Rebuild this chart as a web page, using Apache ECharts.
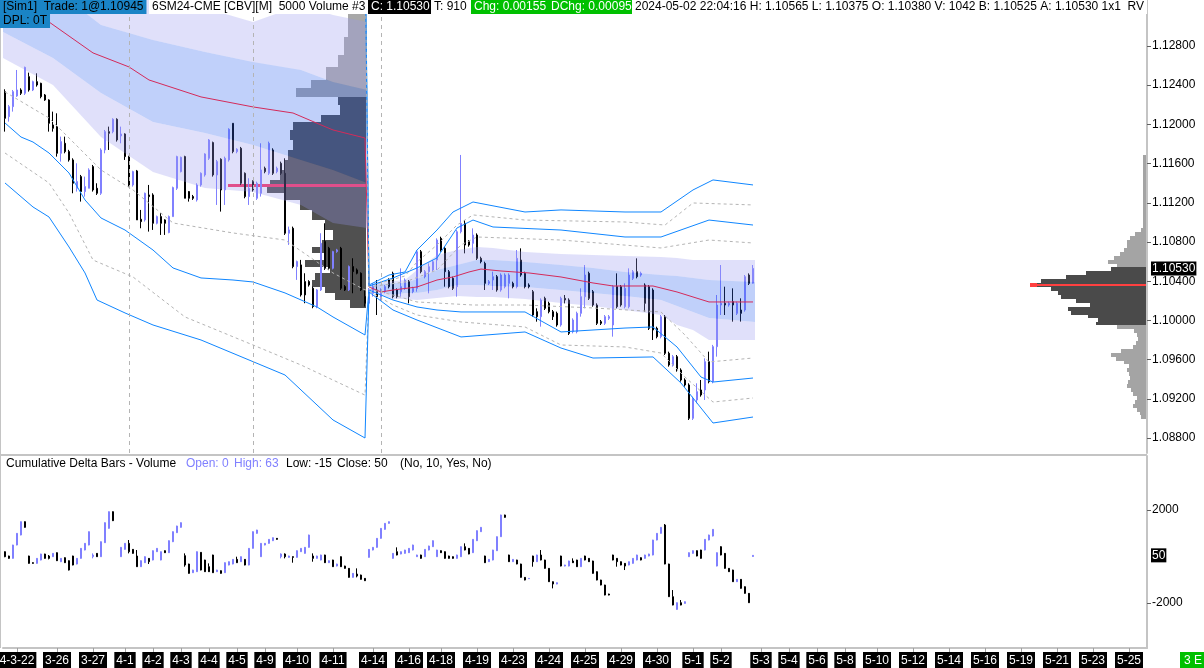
<!DOCTYPE html>
<html><head><meta charset="utf-8">
<script src="https://cdn.jsdelivr.net/npm/echarts@6/dist/echarts.min.js"></script>
<style>html,body{margin:0;padding:0;background:#fff}#c{width:1204px;height:668px}</style>
</head><body><div id="c"></div>
<script>
// ---------------- DATA ----------------
// price bars (5000 volume bars): [open, close, low, high]
const priceOHLC = [
[1.12334,1.12062,1.11926,1.12358],[1.12079,1.12181,1.12028,1.12198],[1.12181,1.12334,1.12130,1.12351],[1.12290,1.12351,1.12280,1.12555],
[1.12351,1.12317,1.12300,1.12368],[1.12317,1.12582,1.12300,1.12589],[1.12487,1.12351,1.12334,1.12528],[1.12351,1.12436,1.12340,1.12446],
[1.12436,1.12402,1.12385,1.12521],[1.12419,1.12283,1.12266,1.12425],[1.12300,1.12249,1.12240,1.12310],[1.12249,1.12011,1.11926,1.12256],
[1.11994,1.11960,1.11926,1.12130],[1.11977,1.11705,1.11671,1.12113],[1.11705,1.11824,1.11620,1.11875],[1.11807,1.11722,1.11705,1.11875],
[1.11722,1.11637,1.11620,1.11740],[1.11637,1.11399,1.11297,1.11654],[1.11348,1.11416,1.11314,1.11603],[1.11467,1.11314,1.11212,1.11484],
[1.11314,1.11365,1.11263,1.11467],[1.11348,1.11535,1.11348,1.11552],[1.11569,1.11331,1.11314,1.11586],[1.11348,1.11297,1.11280,1.11399],
[1.11297,1.11739,1.11280,1.11756],[1.11739,1.11926,1.11705,1.11943],[1.11926,1.11909,1.11739,1.11977],[1.11926,1.12052,1.11909,1.12062],
[1.12052,1.11841,1.11824,1.12062],[1.11882,1.11902,1.11807,1.11977],[1.11902,1.11671,1.11637,1.11909],[1.11671,1.11382,1.11365,1.11680],
[1.11382,1.11518,1.11365,1.11527],[1.11525,1.11025,1.11025,1.11535],[1.11032,1.11008,1.10940,1.11127],[1.11025,1.11297,1.11008,1.11304],
[1.11280,1.11263,1.10906,1.11382],[1.11280,1.10991,1.10923,1.11297],[1.10991,1.11059,1.10980,1.11070],[1.11059,1.10991,1.10872,1.11093],
[1.11025,1.10991,1.10872,1.11032],[1.10896,1.11059,1.10889,1.11070],[1.11059,1.11355,1.11059,1.11365],[1.11348,1.11671,1.11331,1.11680],
[1.11518,1.11664,1.11510,1.11671],[1.11671,1.11246,1.11246,1.11680],[1.11314,1.11246,1.11212,1.11320],[1.11263,1.11246,1.11229,1.11280],
[1.11229,1.11382,1.11212,1.11399],[1.11382,1.11501,1.11365,1.11510],[1.11484,1.11698,1.11467,1.11705],[1.11654,1.11841,1.11637,1.11850],
[1.11814,1.11484,1.11467,1.11824],[1.11484,1.11620,1.11178,1.11637],[1.11644,1.11331,1.11110,1.11654],[1.11331,1.11654,1.11178,1.11671],
[1.11637,1.11950,1.11620,1.11960],[1.12011,1.11722,1.11705,1.12011],[1.11722,1.11746,1.11705,1.11756],[1.11756,1.11399,1.11382,1.11770],
[1.11501,1.11263,1.11246,1.11510],[1.11263,1.11348,1.11178,1.11450],[1.11416,1.11331,1.11314,1.11430],[1.11246,1.11399,1.11229,1.11416],
[1.11297,1.11535,1.11263,1.11807],[1.11552,1.11518,1.11501,1.11569],[1.11501,1.11807,1.11484,1.11824],[1.11739,1.11501,1.11484,1.11756],
[1.11518,1.11552,1.11501,1.11569],[1.11603,1.11501,1.11484,1.11620],[1.11501,1.10889,1.10872,1.11654],[1.10889,1.10923,1.10770,1.10957],
[1.10940,1.10549,1.10532,1.10957],[1.10549,1.10600,1.10413,1.10610],[1.10566,1.10260,1.10243,1.10617],[1.10396,1.10260,1.10175,1.10481],
[1.10396,1.10362,1.10345,1.10410],[1.10328,1.10141,1.10124,1.10345],[1.10141,1.10311,1.10124,1.10320],[1.10311,1.10787,1.10300,1.10889],
[1.10804,1.10532,1.10515,1.10991],[1.10736,1.10532,1.10515,1.10750],[1.10532,1.10702,1.10520,1.10710],[1.10702,1.10719,1.10690,1.10730],
[1.10736,1.10328,1.10311,1.10750],[1.10345,1.10311,1.10300,1.10360],[1.10311,1.10549,1.10300,1.10560],[1.10549,1.10498,1.10277,1.10634],
[1.10515,1.10481,1.10470,1.10530],[1.10481,1.10311,1.10300,1.10490],[1.10243,1.10175,1.10141,1.10311],[1.10175,1.10290,1.10140,1.10330],
[1.10276,1.10344,1.10242,1.10378],[1.10310,1.10242,1.10055,1.10412],[1.10225,1.10310,1.10208,1.10327],[1.10293,1.10344,1.10276,1.10361],
[1.10412,1.10344,1.10327,1.10429],[1.10480,1.10242,1.10225,1.10497],[1.10310,1.10242,1.10225,1.10327],[1.10293,1.10344,1.10242,1.10531],
[1.10327,1.10412,1.10310,1.10429],[1.10395,1.10242,1.10174,1.10412],[1.10293,1.10327,1.10276,1.10344],[1.10327,1.10701,1.10293,1.10718],
[1.10701,1.10497,1.10480,1.10718],[1.10446,1.10497,1.10429,1.10514],[1.10497,1.10548,1.10276,1.10582],[1.10514,1.10599,1.10497,1.10616],
[1.10616,1.10820,1.10514,1.10837],[1.10837,1.10718,1.10701,1.10854],[1.10735,1.10497,1.10344,1.10752],[1.10497,1.10344,1.10327,1.10514],
[1.10429,1.10327,1.10310,1.10446],[1.10344,1.10905,1.10242,1.10922],[1.10905,1.10990,1.10888,1.11688],[1.10990,1.10769,1.10684,1.11024],
[1.10803,1.10769,1.10752,1.10820],[1.10786,1.10871,1.10684,1.10939],[1.10871,1.10633,1.10616,1.10888],[1.10633,1.10599,1.10582,1.10650],
[1.10582,1.10378,1.10310,1.10599],[1.10378,1.10395,1.10361,1.10412],[1.10412,1.10446,1.10310,1.10497],[1.10446,1.10310,1.10293,1.10463],
[1.10310,1.10463,1.10293,1.10480],[1.10344,1.10463,1.10327,1.10480],[1.10378,1.10463,1.10225,1.10480],[1.10378,1.10344,1.10327,1.10395],
[1.10344,1.10633,1.10327,1.10718],[1.10616,1.10463,1.10446,1.10735],[1.10480,1.10344,1.10327,1.10497],[1.10361,1.10344,1.10327,1.10378],
[1.10293,1.10055,1.10038,1.10310],[1.10089,1.10038,1.09987,1.10123],[1.10038,1.10208,1.09936,1.10225],[1.10225,1.10123,1.10106,1.10242],
[1.10174,1.10089,1.10072,1.10191],[1.10089,1.10038,1.10004,1.10106],[1.10072,1.09953,1.09936,1.10089],[1.09953,1.10225,1.09936,1.10242],
[1.10225,1.10208,1.10174,1.10259],[1.10208,1.09868,1.09851,1.10225],[1.09885,1.10004,1.09868,1.10021],[1.09885,1.10072,1.09868,1.10089],
[1.10072,1.10242,1.10038,1.10327],[1.10242,1.10463,1.10123,1.10565],[1.10480,1.10225,1.10208,1.10497],[1.10293,1.10157,1.10140,1.10310],
[1.10157,1.09970,1.09953,1.10174],[1.09987,1.09970,1.09953,1.10004],[1.09970,1.10038,1.09953,1.10055],[1.10021,1.10038,1.10004,1.10055],
[1.09953,1.10344,1.09834,1.10361],[1.10344,1.10140,1.10123,1.10480],[1.10344,1.10157,1.10140,1.10361],[1.10140,1.10327,1.10123,1.10378],
[1.10140,1.10463,1.10123,1.10531],[1.10429,1.10497,1.10412,1.10514],[1.10497,1.10446,1.10429,1.10633],[1.10463,1.10480,1.10446,1.10497],
[1.10361,1.10174,1.10089,1.10378],[1.10344,1.09919,1.09902,1.10361],[1.10310,1.09902,1.09800,1.10327],[1.09919,1.09834,1.09817,1.09936],
[1.09834,1.10038,1.09817,1.10055],[1.10038,1.09664,1.09647,1.10055],[1.09664,1.09545,1.09528,1.09681],[1.09545,1.09630,1.09528,1.09647],
[1.09630,1.09494,1.09477,1.09647],[1.09494,1.09392,1.09375,1.09511],[1.09392,1.09341,1.09324,1.09409],[1.09341,1.09001,1.08984,1.09358],
[1.09001,1.09205,1.08984,1.09222],[1.09188,1.09273,1.09154,1.09358],[1.09290,1.09239,1.09222,1.09392],[1.09290,1.09579,1.09188,1.09613],
[1.09579,1.09375,1.09358,1.09681],[1.09375,1.09732,1.09358,1.09750],[1.09732,1.10157,1.09630,1.10259],[1.10157,1.10174,1.10055,1.10565],
[1.10174,1.10157,1.10055,1.10344],[1.10157,1.10174,1.10140,1.10191],[1.10191,1.10157,1.09987,1.10327],[1.10072,1.10174,1.10055,1.10191],
[1.10106,1.10072,1.09987,1.10225],[1.10106,1.10446,1.10089,1.10463],[1.10463,1.10378,1.10361,1.10480],[1.10380,1.10530,1.10375,1.10565]
];

// cumulative delta bars: [open, close, low, high]; null = no bar
const deltaOHLC = [
[207,-8,-30,220],[21,-80,-100,35],[-80,494,-95,505],[494,996,480,1010],[924,1498,910,1510],[1498,1254,1240,1510],
[21,-295,-310,35],[-266,-295,-310,-250],[-295,-80,-310,-65],[-151,107,-165,120],[107,-80,-95,120],[21,-80,-123,64],
[-8,135,-20,150],[164,-180,-195,178],[-223,-80,-240,-65],[-51,-266,-280,-35],[-180,-582,-600,-165],[21,-367,-380,35],
[-323,-80,-340,-65],[-80,351,-95,365],[279,566,265,580],[494,1068,480,1080],[-8,64,-80,135],[135,-8,-20,150],
[-8,637,-20,650],[594,1455,580,1470],[1211,1928,1195,1940],[1928,1541,1525,1940],null,[-8,394,-20,410],
[307,566,290,580],[566,207,135,709],[307,135,120,320],[21,-438,-450,279],[-438,-180,-450,-165],[-266,-8,-280,8],
[-80,-223,-323,-65],[-151,250,-165,265],[207,351,195,365],[-151,207,-165,220],[250,164,150,265],[164,680,150,695],
[637,1068,620,1080],[1025,1311,1010,1325],[1254,1455,1240,1470],[35,-367,-438,135],[-323,-725,-740,-310],[-696,-582,-710,-570],
[-653,207,-665,220],[178,-582,-595,190],[-151,-653,-665,-140],[-438,-653,-665,-295],[64,-696,-710,78],[-653,-582,-665,-570],
[-610,-725,-740,-595],[-696,-266,-710,-250],[-367,-223,-380,-210],[-323,-123,-335,-110],[-123,-266,-280,-8],[-223,-8,-235,5],
[-123,-367,-380,-110],[-367,351,-380,365],[351,1068,340,1080],[996,1139,980,1150],[-8,566,-20,580],[494,566,480,580],
[566,738,550,750],[680,809,665,820],[781,738,725,795],[-8,107,-80,135],[107,-8,-80,135],[-37,21,-50,35],
[-8,-37,-266,5],[-37,250,-50,265],[207,351,195,365],[135,394,120,410],[394,924,380,940],[21,-80,-223,135],
[-80,21,-95,35],[-151,64,-165,78],[64,-266,-280,78],[-266,-180,-280,-165],[-151,-438,-450,-140],[-410,-323,-425,-310],
[-8,-438,-450,5],[-410,-510,-525,-395],[-510,-897,-910,-495],[-897,-725,-910,-710],[-754,-840,-897,-510],[-797,-983,-995,-780],
[-940,-1040,-1055,-925],[-37,307,-50,320],[279,394,265,410],[394,781,380,795],[781,1211,765,1225],[1168,1426,1150,1440],
[1426,1498,1410,1510],[-80,135,-95,150],[207,64,50,394],[107,207,95,220],[135,279,120,290],[164,351,150,365],
[279,494,265,510],[-8,64,-20,78],[64,-80,-95,78],[-8,307,-20,320],[279,451,265,465],[422,680,410,695],
[-8,279,-20,290],[250,164,150,265],[207,-80,-95,220],[21,-80,-95,35],[-8,-80,-95,5],[-80,64,-95,78],
[-8,422,-20,435],[422,279,265,566],[351,107,95,365],[164,738,150,750],[680,1111,665,1125],[1068,1254,1055,1270],
[21,-266,-280,35],[-223,-123,-235,-110],[-151,279,-165,290],[250,852,235,865],[852,1785,840,1800],[1785,1684,1670,1800],
[64,-223,-235,78],[-223,-123,-235,-110],[-151,-323,-335,-140],[-323,-897,-910,-310],[-897,-1012,-1025,-885],[-954,-940,-960,-930],
[21,-223,-438,35],[-223,64,-235,78],[64,-151,-165,279],[-151,-510,-525,-140],[-510,-1084,-1095,-495],[-1084,-1184,-1370,-1070],
[-1184,-1127,-1195,-1115],[21,-410,-425,35],[-410,-367,-425,-355],[-410,-194,-425,-180],[-194,-266,-280,-80],[-151,-438,-450,-140],
[-438,-80,-450,-65],[21,-151,-165,35],[-80,-223,-235,-65],[-194,-725,-740,-180],[-653,-1012,-1025,-640],[-1012,-1227,-1240,-1000],
[-1227,-1657,-1670,-1215],[-1614,-1657,-1670,-1600],[64,-151,-165,78],[-80,-223,-438,-65],[-223,-367,-380,-210],[-295,-410,-582,-280],
[-367,-223,-380,-210],[-295,-80,-310,-65],[-151,64,-165,78],[-51,-151,-165,-35],[-80,64,-95,78],[21,107,8,120],
[64,709,50,720],[709,996,695,1010],[996,1254,980,1270],[1354,-323,-335,1397],[-323,-1729,-1740,-310],[-1729,-2087,-2100,-1442],
[-2274,-1987,-2290,-1975],[-1987,-2087,-2100,-1872],[-2016,-1944,-2030,-1930],[-8,164,-20,178],[135,250,120,265],[250,21,8,265],
[279,-80,-95,290],[279,738,265,750],[709,924,695,940],[881,1168,865,1180],[-410,164,-425,178],[422,64,50,440],
[135,-510,-525,150],[-510,-653,-665,-495],[-582,-1084,-1095,-570],[-1084,-983,-1095,-970],[-983,-1370,-1385,-970],[-1299,-1585,-1600,-1285],
[-1585,-1987,-2000,-1570],[0,50,-15,63]
];

// x-axis date labels (bar index -> text)
const xLabelIdx  = [3,13,22,30,37,44,51,58,65,73,82,92,101,109,118,127,136,145,154,163,172,179,189,196,203,210,218,227,236,245,254,263,272,281];
const xLabelText = ['4-3-22','3-26','3-27','4-1','4-2','4-3','4-4','4-5','4-9','4-10','4-11','4-14','4-16','4-18','4-19','4-23','4-24','4-25','4-29','4-30','5-1','5-2','5-3','5-4','5-6','5-8','5-10','5-12','5-14','5-16','5-19','5-21','5-23','5-25'];
const daySeparators = ['31','62','94'];

const priceTicks = [1.088,1.092,1.096,1.100,1.104,1.108,1.112,1.116,1.120,1.124,1.128];
const deltaTicks = [-2000,2000];
const lastPrice = 1.10530;
const lastDelta = 50;

// VWAP and deviation lines: [barIndex, price]
const vwapLine = [[0,1.13218],[11,1.13045],[22,1.12729],[31,1.12586],[36,1.12453],[49,1.12280],[62,1.12178],[72,1.12116],[79,1.11994],[82,1.11943],[90,1.11861],[91,1.10341],[94,1.10290],[97,1.10310],[103,1.10341],[108,1.10412],[112,1.10443],[116,1.10494],[119,1.10524],[124,1.10504],[131,1.10484],[139,1.10443],[147,1.10382],[152,1.10351],[162,1.10351],[168,1.10290],[176,1.10188],[187,1.10188]];
const blueUpper2 = [[0,1.14086],[90,1.14086],[91,1.10361],[96,1.10463],[100,1.10494],[103,1.10718],[108,1.10922],[112,1.11106],[117,1.11208],[130,1.11106],[139,1.11127],[155,1.11106],[164,1.11106],[172,1.11331],[177,1.11433],[187,1.11382]];
const grayUpper2 = [[0,1.13984],[90,1.13984],[91,1.10351],[100,1.10453],[103,1.10596],[108,1.10770],[113,1.10973],[117,1.11076],[130,1.11024],[155,1.11004],[165,1.10973],[172,1.11198],[187,1.11178]];
const blueUpper1 = [[0,1.13882],[90,1.13882],[91,1.10351],[97,1.10433],[103,1.10535],[108,1.10637],[113,1.10943],[117,1.11024],[122,1.10953],[139,1.10922],[155,1.10851],[164,1.10851],[176,1.11024],[187,1.10973]];
const grayUpper1 = [[0,1.13780],[90,1.13780],[91,1.10341],[100,1.10392],[108,1.10514],[114,1.10770],[118,1.10851],[139,1.10820],[164,1.10739],[176,1.10820],[187,1.10790]];
const grayLower1 = [[0,1.12331],[11,1.12065],[24,1.11535],[32,1.11331],[42,1.10994],[57,1.10892],[70,1.10820],[82,1.10484],[90,1.10310],[91,1.10320],[97,1.10259],[103,1.10188],[117,1.10157],[130,1.10157],[147,1.10127],[164,1.10086],[170,1.09851],[176,1.09576],[187,1.09616]];
const blueLower1 = [[0,1.12014],[4,1.11871],[7,1.11820],[11,1.11708],[16,1.11504],[20,1.11229],[24,1.11045],[30,1.10922],[37,1.10718],[42,1.10535],[49,1.10433],[57,1.10412],[62,1.10392],[70,1.10280],[78,1.10137],[82,1.10035],[90,1.09851],[91,1.10310],[97,1.10208],[103,1.10137],[108,1.10106],[114,1.10086],[130,1.10086],[139,1.09882],[155,1.09922],[162,1.09933],[168,1.09729],[174,1.09422],[177,1.09371],[187,1.09412]];
const grayLower2 = [[0,1.11708],[11,1.11402],[16,1.11096],[22,1.10616],[32,1.10443],[45,1.10035],[62,1.09749],[74,1.09545],[90,1.09238],[91,1.10300],[97,1.10157],[103,1.10055],[114,1.09984],[130,1.09933],[139,1.09749],[155,1.09729],[164,1.09667],[170,1.09422],[177,1.09167],[187,1.09208]];
const blueLower2 = [[0,1.11402],[7,1.11157],[11,1.11055],[16,1.10749],[20,1.10484],[23,1.10208],[30,1.10076],[37,1.09953],[49,1.09800],[61,1.09596],[70,1.09443],[74,1.09290],[82,1.08984],[90,1.08800],[91,1.10290],[97,1.10106],[103,1.10004],[114,1.09831],[130,1.09882],[139,1.09718],[147,1.09616],[162,1.09627],[169,1.09361],[177,1.08953],[187,1.09014]];

// VWAP bands (2 sessions): index, +2sd, +1sd, -1sd, -2sd
const bandS1Idx = [0,12,24,37,50,62,74,82,90];
const bandS1U2 = [1.13698,1.13667,1.13525,1.13412,1.13188,1.13045,1.13218,1.13116,1.13045];
const bandS1U1 = [1.13433,1.13392,1.13014,1.12861,1.12739,1.12637,1.12555,1.12433,1.12351];
const bandS1L1 = [1.12943,1.12677,1.12320,1.12024,1.11912,1.11790,1.11637,1.11535,1.11402];
const bandS1L2 = [1.12677,1.12402,1.11871,1.11514,1.11351,1.11310,1.11178,1.10994,1.10943];
const bandS2Idx = [92,97,100,103,108,113,118,122,130,139,147,155,164,168,172,176,187];
const bandS2U2 = [1.10382,1.10402,1.10412,1.10514,1.10667,1.10718,1.10749,1.10739,1.10698,1.10678,1.10667,1.10657,1.10647,1.10637,1.10616,1.10616,1.10616];
const bandS2U1 = [1.10361,1.10382,1.10382,1.10423,1.10514,1.10565,1.10616,1.10616,1.10596,1.10565,1.10535,1.10494,1.10463,1.10453,1.10433,1.10412,1.10392];
const bandS2L1 = [1.10320,1.10259,1.10280,1.10280,1.10310,1.10361,1.10361,1.10351,1.10341,1.10310,1.10280,1.10249,1.10208,1.10147,1.10086,1.10025,1.09984];
const bandS2L2 = [1.10300,1.10218,1.10218,1.10208,1.10229,1.10249,1.10239,1.10239,1.10218,1.10178,1.10147,1.10106,1.10055,1.09953,1.09902,1.09800,1.09800];

// Volume profile of session 1 (left): price edges (descending) and volume per row
const lpEdges = [1.13269,1.13127,1.12892,1.12708,1.12586,1.12453,1.12371,1.12280,1.12198,1.12096,1.12024,1.11943,1.11841,1.11739,1.11637,1.11535,1.11433,1.11392,1.11361,1.11300,1.11229,1.11127,1.11024,1.10922,1.10820,1.10749,1.10688,1.10616,1.10545,1.10484,1.10412,1.10341,1.10280,1.10208,1.10127];
const lpVol = [10,18,22,28,40,55,70,28,26,45,73,76,73,78,81,86,96,138,99,81,66,54,41,33,44,54,41,61,36,51,54,41,31,16];
const lpVAH = 1.12280, lpVAL = 1.10127, lpPOC = 1.11376;
// Volume profile of whole visible range (right)
const rpEdges = [1.1169,1.1094,1.1090,1.1086,1.1082,1.1078,1.1074,1.1070,1.1066,1.1062,1.1058,1.1054,1.1050,1.1046,1.1042,1.1038,1.1034,1.1030,1.1026,1.1022,1.1018,1.1014,1.1010,1.1006,1.1002,1.0998,1.0995,1.0991,1.0987,1.0983,1.0979,1.0975,1.0971,1.0967,1.0963,1.0959,1.0955,1.0951,1.0947,1.0943,1.0939,1.0935,1.0931,1.0927,1.0923,1.0919,1.0915,1.0911,1.0907,1.0903,1.0899];
const rpVol = [3,5,11,16,19,19,22,26,32,38,29,35,60,80,105,116,95,88,85,70,56,78,75,58,48,50,29,12,9,8,10,13,25,35,30,22,17,19,17,16,18,19,15,13,9,11,13,9,6,5];
const rpVAH = 1.1054, rpVAL = 1.0995, rpPOC = 1.1036;

// ---------------- CHART ----------------
const FONT = 'Liberation Sans';
const UP = '#8080ff', DOWN = '#000000';
const LAV = 'rgba(152,152,238,0.30)', BLU = 'rgba(45,98,238,0.30)';
const AXC = '#c4c4c4';
const N = 286;
const cats = Array.from({length: N}, (_, i) => String(i));
const labelAt = {};
xLabelIdx.forEach((ix, k) => { labelAt[ix] = xLabelText[k]; });
const showLab = (i) => labelAt[i] !== undefined;

const priceMin = 1.08647, priceMax = 1.13269;
const deltaMin = -3935, deltaMax = 4323;

function rows(edges, vols) {
  return vols.map((v, k) => [v, edges[k + 1], edges[k]]);
}
function profileRender(vah, val, poc, light, dark, pocColor, pocLine) {
  return function (params, api) {
    const vol = api.value(0), lo = api.value(1), hi = api.value(2);
    const a = api.coord([0, hi]), b = api.coord([vol, lo]);
    const x = Math.round(Math.min(a[0], b[0])), x2 = Math.round(Math.max(a[0], b[0]));
    const y = Math.round(a[1]), y2 = Math.round(b[1]);
    const mid = (lo + hi) / 2;
    const isPoc = poc >= lo && poc < hi;
    let fill = (mid <= vah && mid >= val) ? dark : light;
    if (isPoc && !pocLine) fill = pocColor;
    const kids = [{type: 'rect', shape: {x: x, y: y, width: x2 - x, height: Math.max(1, y2 - y)}, style: {fill: fill}}];
    if (isPoc && pocLine) {
      const c = api.coord([vol, poc]);
      kids.push({type: 'rect', shape: {x: x, y: Math.round(c[1]) - 1, width: x2 - x, height: 2}, style: {fill: pocColor}});
      kids.push({type: 'rect', shape: {x: x, y: Math.round(c[1]) - 2, width: 7, height: 4}, style: {fill: pocColor}});
    }
    return {type: 'group', children: kids};
  };
}

const bandSessions = [
  {idx: bandS1Idx, u2: bandS1U2, u1: bandS1U1, l1: bandS1L1, l2: bandS1L2},
  {idx: bandS2Idx, u2: bandS2U2, u1: bandS2U1, l1: bandS2L1, l2: bandS2L2}
];
function bandRender(params, api) {
  const s = bandSessions[params.dataIndex];
  const n = s.idx.length;
  const pt = (k, arr) => {
    const c = api.coord([s.idx[k], arr[k]]);
    if (k === 0) c[0] -= 2;
    if (k === n - 1) c[0] += 2;
    return c;
  };
  const poly = (top, bot, fill) => {
    const pts = [];
    for (let k = 0; k < n; k++) pts.push(pt(k, top));
    for (let k = n - 1; k >= 0; k--) pts.push(pt(k, bot));
    return {type: 'polygon', shape: {points: pts}, style: {fill: fill}};
  };
  return {type: 'group', children: [poly(s.u2, s.u1, LAV), poly(s.u1, s.l1, BLU), poly(s.l1, s.l2, LAV)]};
}

function ln(name, data, color, dashed) {
  return {type: 'line', name: name, xAxisIndex: 0, yAxisIndex: 0, data: data, symbol: 'none', showSymbol: false,
    lineStyle: {color: color, width: 1, type: dashed ? [3, 3] : 'solid'}, z: 4, silent: true, clip: true};
}

const hdr = (x, y, text, fill, bg) => ({type: 'text', x: x, y: y, z: 100, silent: true,
  style: {text: text, fill: fill, backgroundColor: bg, padding: [1, 3, 1, 3], lineHeight: 12, font: '12px "' + FONT + '"', verticalAlign: 'top'}});
const lbl = (x, y, text, fill) => ({type: 'text', x: x, y: y, z: 100, silent: true,
  style: {text: text, fill: fill, font: '12px "' + FONT + '"', verticalAlign: 'top'}});

const option = {
  animation: false,
  backgroundColor: '#ffffff',
  textStyle: {fontFamily: FONT},
  grid: [
    {left: 3, width: 1144, top: 0, height: 453, outerBoundsMode: 'none', containLabel: false},
    {left: 3, width: 1144, top: 456, height: 192, outerBoundsMode: 'none', containLabel: false},
    {left: 3, width: 363, top: 0, height: 453, outerBoundsMode: 'none', containLabel: false},
    {left: 1000, width: 146, top: 0, height: 453, outerBoundsMode: 'none', containLabel: false}
  ],
  xAxis: [
    {type: 'category', gridIndex: 0, data: cats, boundaryGap: true, show: false, axisLine: {onZero: false}},
    {type: 'category', gridIndex: 1, data: cats, boundaryGap: true,
      axisLine: {show: true, onZero: false, lineStyle: {color: AXC, width: 2}},
      axisTick: {show: true, alignWithLabel: true, interval: showLab, length: 4, lineStyle: {color: '#a0a0a0'}},
      axisLabel: {interval: showLab, formatter: (v, i) => labelAt[i] || '', color: '#ffffff', backgroundColor: '#000000',
        padding: [2, 2, 1, 2], lineHeight: 13, fontSize: 12, fontFamily: FONT, margin: 4},
      splitLine: {show: false}},
    {type: 'value', gridIndex: 2, min: 0, max: 363, inverse: true, show: false},
    {type: 'value', gridIndex: 3, min: 0, max: 146, inverse: true, show: false}
  ],
  yAxis: [
    {type: 'value', gridIndex: 0, position: 'right', min: priceMin, max: priceMax,
      axisLine: {show: true, onZero: false, lineStyle: {color: AXC, width: 2}},
      axisTick: {show: true, length: 4, customValues: priceTicks, lineStyle: {color: '#606060'}},
      axisLabel: {customValues: priceTicks, formatter: (v) => v.toFixed(5), color: '#000', fontSize: 12, fontFamily: FONT, margin: 5},
      splitLine: {show: false}},
    {type: 'value', gridIndex: 0, position: 'right', min: priceMin, max: priceMax,
      axisLine: {show: false}, axisTick: {show: false}, splitLine: {show: false},
      axisLabel: {customValues: [lastPrice], formatter: (v) => v.toFixed(5), color: '#fff', backgroundColor: '#000',
        padding: [1, 1, 1, 1], fontSize: 12, fontFamily: FONT, margin: 4}},
    {type: 'value', gridIndex: 1, position: 'right', min: deltaMin, max: deltaMax,
      axisLine: {show: true, onZero: false, lineStyle: {color: AXC, width: 2}},
      axisTick: {show: true, length: 4, customValues: deltaTicks, lineStyle: {color: '#606060'}},
      axisLabel: {customValues: deltaTicks, formatter: (v) => String(Math.round(v)), color: '#000', fontSize: 12, fontFamily: FONT, margin: 5},
      splitLine: {show: false}},
    {type: 'value', gridIndex: 1, position: 'right', min: deltaMin, max: deltaMax,
      axisLine: {show: false}, axisTick: {show: false}, splitLine: {show: false},
      axisLabel: {customValues: [lastDelta], formatter: (v) => String(Math.round(v)), color: '#fff', backgroundColor: '#000',
        padding: [1, 1, 1, 1], fontSize: 12, fontFamily: FONT, margin: 4}},
    {type: 'value', gridIndex: 2, min: priceMin, max: priceMax, show: false},
    {type: 'value', gridIndex: 3, min: priceMin, max: priceMax, show: false}
  ],
  series: [
    {type: 'custom', name: 'profileLeft', xAxisIndex: 2, yAxisIndex: 4, z: 1, silent: true,
      data: rows(lpEdges, lpVol), encode: {x: 0, y: [1, 2]},
      renderItem: profileRender(lpVAH, lpVAL, lpPOC, '#a8a8a8', '#505050', '#ff3060', false)},
    {type: 'custom', name: 'profileRight', xAxisIndex: 3, yAxisIndex: 5, z: 1, silent: true,
      data: rows(rpEdges, rpVol), encode: {x: 0, y: [1, 2]},
      renderItem: profileRender(rpVAH, rpVAL, rpPOC, '#a4a4a4', '#4a4a4a', '#ff4040', true)},
    {type: 'candlestick', name: 'price', xAxisIndex: 0, yAxisIndex: 0, z: 2, silent: true, barWidth: 2,
      data: priceOHLC,
      itemStyle: {color: UP, color0: DOWN, borderColor: UP, borderColor0: DOWN, borderWidth: 1}},
    {type: 'custom', name: 'vwapBands', xAxisIndex: 0, yAxisIndex: 0, z: 3, silent: true,
      data: bandSessions.map(s => [s.idx[0], s.l1[0]]), renderItem: bandRender},
    Object.assign(ln('vwap', vwapLine, '#d42a5a', false), {
      markLine: {silent: true, symbol: 'none', label: {show: false},
        lineStyle: {color: '#b4b4b4', type: [4, 4], width: 1},
        data: daySeparators.map(d => ({xAxis: d}))}}),
    ln('bu2', blueUpper2, '#0f86ff', false),
    ln('gu2', grayUpper2, '#b4b4b4', true),
    ln('bu1', blueUpper1, '#0f86ff', false),
    ln('gu1', grayUpper1, '#b4b4b4', true),
    ln('gl1', grayLower1, '#b4b4b4', true),
    ln('bl1', blueLower1, '#0f86ff', false),
    ln('gl2', grayLower2, '#b4b4b4', true),
    ln('bl2', blueLower2, '#0f86ff', false),
    {type: 'candlestick', name: 'delta', xAxisIndex: 1, yAxisIndex: 2, z: 2, silent: true, barWidth: 2,
      data: deltaOHLC.map(d => d || ['-', '-', '-', '-']),
      itemStyle: {color: UP, color0: DOWN, borderColor: UP, borderColor0: DOWN, borderWidth: 1}}
  ],
  graphic: {elements: [
    {type: 'line', z: 50, silent: true, shape: {x1: 0, y1: 455, x2: 1147, y2: 455}, style: {stroke: AXC, lineWidth: 2}},
    {type: 'line', z: 50, silent: true, shape: {x1: 0.5, y1: 0, x2: 0.5, y2: 648}, style: {stroke: AXC, lineWidth: 1}},
    hdr(0, 0, '[Sim1]  Trade: 1@1.10945', '#000', '#1a84c6'),
    hdr(149, 0, '6SM24-CME [CBV][M]  5000 Volume #3', '#000', '#fff'),
    hdr(368, 0, 'C: 1.10530', '#fff', '#000'),
    hdr(431, 0, 'T: 910', '#000', '#fff'),
    hdr(471, 0, 'Chg: 0.00155', '#fff', '#00c000'),
    hdr(548, 0, 'DChg: 0.00095', '#fff', '#00c000'),
    hdr(632, 0, '2024-05-02 22:04:16 H: 1.10565 L: 1.10375 O: 1.10380 V: 1042 B: 1.10525 A: 1.10530 1x1  RV', '#000', '#fff'),
    hdr(0, 14, 'DPL: 0T', '#000', '#1a84c6'),
    lbl(6, 458, 'Cumulative Delta Bars - Volume', '#000'),
    lbl(186, 458, 'Open: 0', UP),
    lbl(234, 458, 'High: 63', UP),
    lbl(286, 458, 'Low: -15', '#000'),
    lbl(337, 458, 'Close: 50', '#000'),
    lbl(400, 458, '(No, 10, Yes, No)', '#000'),
    {type: 'text', x: 1180, y: 652, z: 100, silent: true,
      style: {text: '3 E', fill: '#fff', backgroundColor: '#00c000', padding: [2, 4, 1, 4], lineHeight: 13, font: '12px "' + FONT + '"', verticalAlign: 'top'}}
  ]}
};

const chart = echarts.init(document.getElementById('c'), null, {renderer: 'canvas', width: 1204, height: 668});
chart.setOption(option);
</script></body></html>
